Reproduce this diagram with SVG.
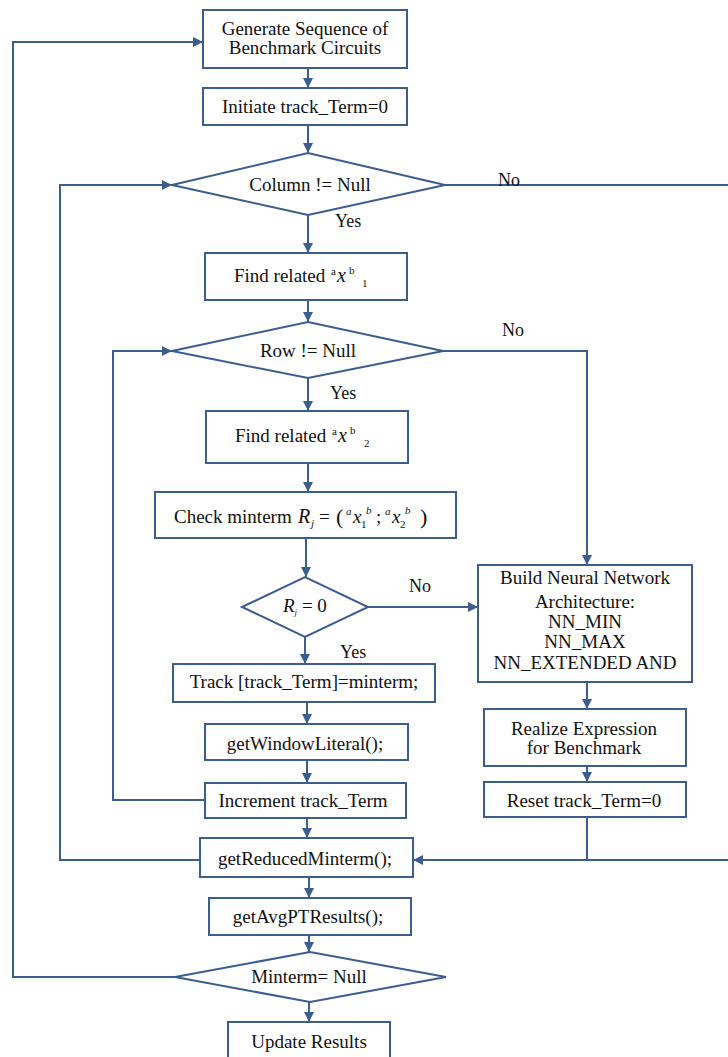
<svg xmlns="http://www.w3.org/2000/svg" width="728" height="1057" viewBox="0 0 728 1057">
<style>
.n{fill:#fff;stroke:#3B5E8E;stroke-width:2}
.c{fill:none;stroke:#3B5E8E;stroke-width:2}
text{font-family:"Liberation Serif","Times New Roman",serif;font-size:19px;fill:#111}
.m{text-anchor:middle}
.lb{font-size:18px}
.s{font-size:11px}
.i{font-style:italic}
</style>
<defs>
<marker id="a" markerUnits="userSpaceOnUse" markerWidth="10" markerHeight="10" refX="10" refY="5" orient="auto">
<path d="M0,0 L10,5 L0,10 z" fill="#3B5E8E"/>
</marker>
</defs>
<rect width="728" height="1057" fill="#fff"/>
<g id="connectors">
<path class="c" d="M308,68 V88" marker-end="url(#a)"/>
<path class="c" d="M308,125 V153" marker-end="url(#a)"/>
<path class="c" d="M308,215 V253" marker-end="url(#a)"/>
<path class="c" d="M308,300 V322" marker-end="url(#a)"/>
<path class="c" d="M308,378 V411" marker-end="url(#a)"/>
<path class="c" d="M308,463 V492" marker-end="url(#a)"/>
<path class="c" d="M306,538 V577" marker-end="url(#a)"/>
<path class="c" d="M305,637 V664" marker-end="url(#a)"/>
<path class="c" d="M307,702 V724" marker-end="url(#a)"/>
<path class="c" d="M307,760 V783" marker-end="url(#a)"/>
<path class="c" d="M307,818 V838" marker-end="url(#a)"/>
<path class="c" d="M309,877 V898" marker-end="url(#a)"/>
<path class="c" d="M309,935 V952" marker-end="url(#a)"/>
<path class="c" d="M309,1002 V1022" marker-end="url(#a)"/>
<path class="c" d="M445,185 H729"/>
<path class="c" d="M443,351 H587 V565" marker-end="url(#a)"/>
<path class="c" d="M368,607 H478" marker-end="url(#a)"/>
<path class="c" d="M587,682 V709" marker-end="url(#a)"/>
<path class="c" d="M587,766 V782" marker-end="url(#a)"/>
<path class="c" d="M587,817 V860"/>
<path class="c" d="M729,860 H413" marker-end="url(#a)"/>
<path class="c" d="M205,800 H113 V351 H172" marker-end="url(#a)"/>
<path class="c" d="M200,860 H60 V185 H172" marker-end="url(#a)"/>
<path class="c" d="M175,977 H13 V42 H203" marker-end="url(#a)"/>
<text class="lb" x="498" y="186">No</text>
<text class="lb" x="502" y="336">No</text>
<text class="lb" x="409" y="592">No</text>
<text class="lb" x="335" y="227">Yes</text>
<text class="lb" x="330" y="399">Yes</text>
<text class="lb" x="340" y="658">Yes</text>
</g>
<g id="generate">
<rect class="n" x="203" y="10" width="204" height="58"/>
<text class="m" x="305" y="35">Generate Sequence of</text>
<text class="m" x="305" y="54">Benchmark Circuits</text>
</g>
<g id="initiate">
<rect class="n" x="203" y="88" width="204" height="37"/>
<text class="m" x="305" y="113">Initiate track_Term=0</text>
</g>
<g id="column">
<polygon class="n" points="172,185 308,153 445,185 308,215"/>
<text class="m" x="310" y="191">Column != Null</text>
</g>
<g id="find1">
<rect class="n" x="205" y="253" width="202" height="47"/>
<text x="234" y="282">Find related</text>
<text><tspan class="s" x="331" y="275">a</tspan><tspan class="i" font-size="20" x="337" y="282">x</tspan><tspan class="s" x="349" y="274">b</tspan><tspan class="s" x="362" y="287">1</tspan></text>
</g>
<g id="row">
<polygon class="n" points="172,351 308,322 443,351 308,378"/>
<text class="m" x="308" y="357">Row != Null</text>
</g>
<g id="find2">
<rect class="n" x="206" y="411" width="202" height="52"/>
<text x="235" y="442">Find related</text>
<text><tspan class="s" x="332" y="435">a</tspan><tspan class="i" font-size="20" x="338" y="442">x</tspan><tspan class="s" x="350" y="434">b</tspan><tspan class="s" x="364" y="447">2</tspan></text>
</g>
<g id="check">
<rect class="n" x="155" y="492" width="301" height="46"/>
<text x="174" y="523">Check minterm</text>
<text><tspan class="i" font-size="20" x="298" y="523">R</tspan><tspan class="s i" x="311" y="527">j</tspan><tspan x="319" y="523">=</tspan><tspan font-size="22" x="336" y="524">(</tspan><tspan class="s i" x="346" y="515">a</tspan><tspan class="i" x="353" y="523">x</tspan><tspan class="s" x="361" y="528">1</tspan><tspan class="s i" x="366" y="514">b</tspan><tspan x="376" y="523">;</tspan><tspan class="s i" x="385" y="515">a</tspan><tspan class="i" x="392" y="523">x</tspan><tspan class="s" x="400" y="528">2</tspan><tspan class="s i" x="405" y="514">b</tspan><tspan font-size="22" x="420" y="524">)</tspan></text>
</g>
<g id="rj">
<polygon class="n" points="242,607 305,577 368,607 305,637"/>
<text x="283" y="612" font-size="13"><tspan class="i">R</tspan><tspan font-size="9" class="i" dy="3">j</tspan><tspan dy="-3"> = 0</tspan></text>
</g>
<g id="build">
<rect class="n" x="478" y="565" width="214" height="117"/>
<text class="m" x="585" y="584">Build Neural Network</text>
<text class="m" x="585" y="608">Architecture:</text>
<text class="m" x="585" y="628">NN_MIN</text>
<text class="m" x="585" y="648">NN_MAX</text>
<text class="m" x="585" y="669">NN_EXTENDED AND</text>
</g>
<g id="realize">
<rect class="n" x="484" y="709" width="202" height="57"/>
<text class="m" x="584" y="735">Realize Expression</text>
<text class="m" x="584" y="754">for Benchmark</text>
</g>
<g id="reset">
<rect class="n" x="484" y="782" width="202" height="35"/>
<text class="m" x="584" y="807">Reset track_Term=0</text>
</g>
<g id="track">
<rect class="n" x="173" y="664" width="262" height="38"/>
<text class="m" x="304" y="688">Track [track_Term]=minterm;</text>
</g>
<g id="window">
<rect class="n" x="205" y="724" width="203" height="36"/>
<text class="m" x="305" y="750">getWindowLiteral();</text>
</g>
<g id="increment">
<rect class="n" x="205" y="783" width="201" height="35"/>
<text class="m" x="303" y="807">Increment track_Term</text>
</g>
<g id="reduced">
<rect class="n" x="200" y="838" width="213" height="39"/>
<text class="m" x="305" y="865">getReducedMinterm();</text>
</g>
<g id="avg">
<rect class="n" x="209" y="898" width="202" height="37"/>
<text class="m" x="308" y="923">getAvgPTResults();</text>
</g>
<g id="minterm">
<polygon class="n" points="175,977 310,952 446,977 310,1002"/>
<text class="m" x="309" y="983">Minterm= Null</text>
</g>
<g id="update">
<rect class="n" x="228" y="1022" width="162" height="38"/>
<text class="m" x="309" y="1048">Update Results</text>
</g>
</svg>
